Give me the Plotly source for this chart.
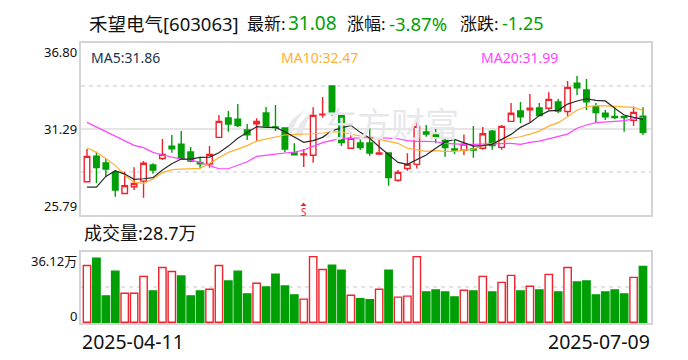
import plotly.graph_objects as go

idx = list(range(60))
opens = [27.92,29.56,29.12,28.52,27.17,27.60,27.96,28.99,29.41,30.20,30.33,29.82,29.16,29.05,30.76,32.00,31.93,31.23,31.63,32.32,31.42,31.36,29.76,29.65,29.61,32.21,34.05,32.19,30.06,30.40,30.40,29.69,29.76,28.01,28.77,29.03,31.10,30.91,30.57,30.01,29.93,30.01,30.06,31.16,30.12,31.78,32.45,32.53,32.64,32.62,33.02,32.42,34.22,33.79,32.72,32.30,32.10,32.10,31.85,32.11]
closes = [29.54,28.82,28.73,27.39,27.67,27.81,29.10,28.67,29.67,30.03,29.41,29.24,29.07,29.67,31.78,31.61,31.51,30.93,31.78,31.49,31.38,30.01,29.65,29.69,32.17,32.25,32.25,30.42,30.70,30.10,29.76,29.76,28.18,28.52,29.03,31.46,30.97,30.80,30.10,29.95,30.33,29.95,30.99,30.23,31.46,32.30,32.08,32.62,32.15,33.19,32.45,33.96,33.94,33.04,32.34,32.08,32.02,32.02,32.36,31.08]
highs = [30.01,29.84,29.37,28.67,28.56,28.84,29.24,29.10,30.65,30.91,31.16,30.14,29.52,30.20,32.19,32.45,32.89,31.61,31.98,32.70,32.83,31.36,30.38,30.01,32.68,33.34,34.05,32.32,31.08,30.70,31.36,30.63,29.76,28.67,29.74,32.02,31.55,31.29,30.70,30.65,30.95,31.49,31.42,31.23,31.55,32.96,33.02,33.53,32.96,33.64,33.21,34.37,34.69,34.49,32.96,32.51,32.68,32.15,32.74,32.68]
lows = [27.92,27.82,28.24,26.96,27.17,27.39,26.90,28.43,29.31,29.78,29.41,29.16,28.82,28.82,30.76,31.12,31.40,30.59,30.52,31.49,31.16,29.80,29.63,28.86,29.14,32.02,32.15,30.20,30.06,29.95,29.59,29.63,27.67,27.92,28.63,28.77,30.80,30.38,29.52,29.69,29.63,29.46,29.97,29.97,29.97,31.78,31.68,31.70,32.15,32.51,32.32,32.13,33.47,32.51,31.74,31.87,31.93,31.12,31.49,30.91]
ma5 = [27.58,27.58,28.26,28.63,28.41,28.07,28.11,28.18,28.67,29.07,29.37,29.37,29.48,29.50,29.78,30.20,30.70,31.06,31.44,31.40,31.40,31.12,30.80,30.44,30.55,30.76,31.19,31.38,31.53,31.08,30.70,30.16,29.63,29.16,29.03,29.31,29.63,30.06,30.46,30.63,30.42,30.20,30.23,30.33,30.63,30.95,31.40,31.70,32.15,32.45,32.49,32.89,33.09,33.23,33.13,33.09,32.62,32.19,32.04,31.91]
ma10 = [30.10,29.80,29.41,28.95,28.35,27.88,27.81,28.09,28.50,28.69,28.73,28.75,28.78,29.10,29.46,29.80,30.01,30.23,30.52,30.65,30.82,30.91,30.95,30.95,30.99,31.04,31.12,31.10,30.97,30.82,30.72,30.63,30.52,30.38,30.06,29.97,29.86,29.91,29.86,29.86,29.95,30.01,30.23,30.38,30.59,30.70,30.80,30.97,31.16,31.48,31.70,32.08,32.51,32.72,32.79,32.77,32.74,32.68,32.68,32.49]
ma20 = [31.72,31.42,31.12,30.84,30.55,30.25,30.10,29.80,29.63,29.50,29.37,29.31,29.16,28.95,28.75,28.75,28.95,29.20,29.54,29.63,29.69,29.76,29.82,29.95,30.20,30.42,30.57,30.70,30.70,30.74,30.76,30.74,30.70,30.67,30.55,30.50,30.50,30.48,30.38,30.33,30.31,30.31,30.33,30.35,30.38,30.38,30.31,30.44,30.52,30.67,30.80,30.97,31.34,31.55,31.70,31.72,31.78,31.83,31.93,32.04]
volumes = [29.17,32.90,13.57,26.29,14.92,14.92,23.57,16.11,28.15,26.12,23.74,13.57,16.11,16.96,29.17,21.20,26.29,14.59,20.01,18.15,24.76,18.66,14.08,11.87,33.75,27.14,29.34,26.80,13.91,12.04,11.53,16.96,26.80,12.89,13.40,33.75,15.60,16.62,15.60,13.06,16.45,16.11,23.57,15.60,20.52,24.08,16.11,18.49,16.62,24.59,15.60,28.15,20.69,21.20,14.08,15.60,16.62,14.59,23.07,28.70]
vol_up = [1,0,0,0,1,1,1,0,1,1,0,0,0,1,1,0,0,0,1,0,0,0,0,1,1,1,0,0,1,0,0,1,0,1,1,1,0,0,0,0,1,0,1,0,1,1,0,1,0,1,0,1,0,0,0,0,0,0,1,0]

price_ticks = [25.79, 31.29, 36.80]
price_dash = [28.54, 34.05]
vol_ticks = [0, 36.12]
vol_dash = [18.06]

RED = "#f0232d"
GREEN = "#009f05"
GRID = "#dcdcdc"
BOX = "#d4d4d8"
FONT = "Noto Sans, Noto Sans CJK SC, sans-serif"
W, H = 688, 360
L, R, T, B = 81, 651, 43, 323

def px(v):
    return (v - L) / (R - L)

def py(v):
    return (B - v) / (B - T)

fig = go.Figure()
fig.add_trace(go.Candlestick(
    x=idx, open=opens, high=highs, low=lows, close=closes, whiskerwidth=0,
    increasing=dict(line=dict(color=RED, width=1.4), fillcolor="white"),
    decreasing=dict(line=dict(color=GREEN, width=1.4), fillcolor=GREEN),
    xaxis="x", yaxis="y", showlegend=False))
for vals, col in ((ma20, "#ff44ff"), (ma10, "#ffb030"), (ma5, "#2a2a2a")):
    fig.add_trace(go.Scatter(x=idx, y=vals, mode="lines", showlegend=False,
                             line=dict(color=col, width=1.2), xaxis="x", yaxis="y"))
fig.add_trace(go.Bar(
    x=idx, y=volumes, width=0.78, showlegend=False, xaxis="x2", yaxis="y2",
    marker=dict(color=["white" if u else GREEN for u in vol_up],
                line=dict(color=[RED if u else GREEN for u in vol_up], width=1.4))))

shapes = []
for v in price_dash:
    shapes.append(dict(type="line", xref="paper", yref="y", x0=0, x1=1, y0=v, y1=v, layer="below",
                       line=dict(color=GRID, width=1.5, dash="4px,4px")))
for v in vol_dash:
    shapes.append(dict(type="line", xref="paper", yref="y2", x0=0, x1=1, y0=v, y1=v, layer="below",
                       line=dict(color=GRID, width=1.5, dash="4px,4px")))
shapes.append(dict(type="line", xref="paper", yref="y", x0=0, x1=1, y0=31.29, y1=31.29, layer="below",
                   line=dict(color=GRID, width=1.5)))

def logo(points):
    d = ""
    for cmd, coords in points:
        d += cmd + " ".join(f"{px(a):.4f},{py(b):.4f}" for a, b in coords)
    return d + "Z"

for pts in (
    [("M", [(284, 137)]), ("Q", [(288, 118), (306, 110)]), ("Q", [(294, 120), (291, 137)])],
    [("M", [(295, 137)]), ("Q", [(298, 120), (314, 111)]), ("Q", [(304, 124), (302, 137)])],
):
    shapes.append(dict(type="path", xref="paper", yref="paper", layer="below", path=logo(pts),
                       fillcolor="#e8e8ec", line=dict(width=0)))
# small red arrow above the "S" marker
shapes.append(dict(type="path", xref="paper", yref="paper", layer="above",
                   path=logo([("M", [(300.5, 206)]), ("L", [(303.5, 202.5)]), ("L", [(306.5, 206)])]),
                   fillcolor=RED, line=dict(width=0)))

def text(s, x, y, size, color="#111111", anchor="left", ya="middle", **kw):
    return dict(text=s, xref="paper", yref="paper", x=px(x), y=py(y), xanchor=anchor, yanchor=ya,
                showarrow=False, font=dict(size=size, color=color, family=FONT),
                align=anchor, borderpad=0, **kw)

ann = [
    text("禾望电气[603063]", 88, 23, 18.5),
    text("最新:", 245.5, 23, 17),
    text("31.08", 287, 23, 19, GREEN),
    text("涨幅:", 346, 23, 17),
    text("-3.87%", 388, 23, 18.5, GREEN),
    text("涨跌:", 459, 23, 17),
    text("-1.25", 501, 23, 18, GREEN),
    text("MA5:31.86", 90, 57, 14, "#1b3350"),
    text("MA10:32.47", 280, 57, 14, "#ffb030"),
    text("MA20:31.99", 480, 57, 14, "#ff44ff"),
    text("36.80", 78, 52, 13, anchor="right"),
    text("31.29", 78, 129, 13, anchor="right"),
    text("25.79", 78, 206, 13, anchor="right"),
    text("成交量:28.7万", 83, 233, 18),
    text("36.12万", 78, 261, 13, anchor="right"),
    text("0", 78, 316, 13, anchor="right"),
    text("2025-04-11", 81, 341, 19.5),
    text("2025-07-09", 651, 341, 19.5, anchor="right"),
    text("东方财富", 322, 124, 34, "#e8e8ec"),
    text("S", 303.5, 211.5, 10, RED, anchor="center"),
]

xrange = [-0.637, 59.85]
ax = dict(showline=True, mirror=True, linecolor=BOX, linewidth=2, zeroline=False, showgrid=False, ticks="")
fig.update_layout(
    width=W, height=H, autosize=False, paper_bgcolor="white", plot_bgcolor="rgba(0,0,0,0)",
    margin=dict(l=L, r=W - R, t=T, b=H - B, pad=0), boxgap=0.16, bargap=0.2,
    font=dict(family=FONT), showlegend=False, shapes=shapes, annotations=ann,
    xaxis=dict(domain=[0, 1], range=xrange, showticklabels=False, rangeslider=dict(visible=False), anchor="y", **ax),
    yaxis=dict(domain=[py(215), 1], range=[price_ticks[0], price_ticks[2]], showticklabels=False, anchor="x", **ax),
    xaxis2=dict(domain=[0, 1], range=xrange, showticklabels=False, anchor="y2", **ax),
    yaxis2=dict(domain=[0, py(252)], range=[-0.4, vol_ticks[1]], showticklabels=False, anchor="x2", **ax),
)
fig.write_html("out.html", config=dict(displayModeBar=False),
               post_script="document.body.style.margin='0';document.documentElement.style.overflow='hidden';")
